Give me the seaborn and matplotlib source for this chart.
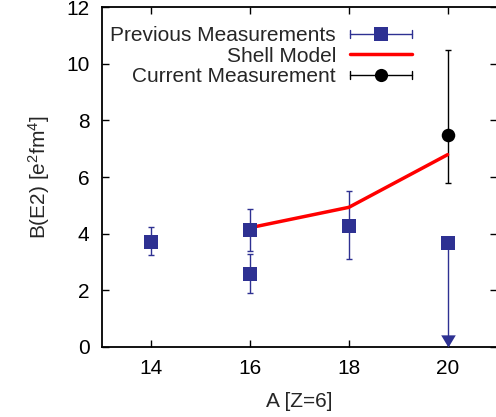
import numpy as np
import pandas as pd
import matplotlib
matplotlib.use("Agg")
import matplotlib.pyplot as plt
import seaborn as sns
from matplotlib.lines import Line2D
from matplotlib.legend_handler import HandlerBase

# ---- data ----
prev_A = [14, 16, 16, 18]
prev_B = [3.71, 4.13, 2.57, 4.28]
prev_lo = [3.25, 3.40, 1.90, 3.10]
prev_hi = [4.22, 4.87, 3.27, 5.50]

lim_A = [20]
lim_B = [3.67]
lim_floor = [0.0]

shell_A = [16, 18, 20]
shell_B = [4.21, 4.93, 6.79]

cur_A = [20]
cur_B = [7.49]
cur_lo = [5.80]
cur_hi = [10.48]

xticks = [14, 16, 18, 20]
yticks = [0, 2, 4, 6, 8, 10, 12]

BLUE = "#2e3192"
RED = "#ff0000"
BLACK = "#000000"
FS = 15

sns.set_theme(style="ticks")
plt.rcParams["font.family"] = ["Liberation Sans", "DejaVu Sans"]
plt.rcParams["mathtext.fontset"] = "custom"
plt.rcParams["mathtext.rm"] = "Liberation Sans"
plt.rcParams["mathtext.it"] = "Liberation Sans"

fig = plt.figure(figsize=(4.96, 4.17), dpi=100)
ax = fig.add_axes([0.2056, 0.168, 0.7964, 0.815])

df_prev = pd.DataFrame({"A": prev_A, "B": prev_B})
df_shell = pd.DataFrame({"A": shell_A, "B": shell_B})
df_cur = pd.DataFrame({"A": cur_A, "B": cur_B})
df_lim = pd.DataFrame({"A": lim_A, "B": lim_B})

# error bars
ax.errorbar(prev_A, prev_B,
            yerr=[np.array(prev_B) - np.array(prev_lo), np.array(prev_hi) - np.array(prev_B)],
            fmt="none", ecolor=BLUE, elinewidth=1.0, capsize=2.5, capthick=1.0, zorder=2)
ax.errorbar(lim_A, lim_B, yerr=[np.array(lim_B) - np.array(lim_floor), np.zeros(len(lim_B))],
            fmt="none", ecolor=BLUE, elinewidth=1.0, capsize=0, zorder=2)
ax.errorbar(cur_A, cur_B,
            yerr=[np.array(cur_B) - np.array(cur_lo), np.array(cur_hi) - np.array(cur_B)],
            fmt="none", ecolor=BLACK, elinewidth=1.0, capsize=2.5, capthick=1.0, zorder=2)

# shell model line
sns.lineplot(data=df_shell, x="A", y="B", color=RED, linewidth=2.5, ax=ax, zorder=3, legend=False)

# markers
sns.scatterplot(data=df_prev, x="A", y="B", marker="s", s=110, color=BLUE, edgecolor=BLUE,
                linewidth=0, ax=ax, zorder=4, legend=False)
sns.scatterplot(data=df_lim, x="A", y="B", marker="s", s=110, color=BLUE, edgecolor=BLUE,
                linewidth=0, ax=ax, zorder=4, legend=False)
sns.scatterplot(data=df_cur, x="A", y="B", marker="o", s=95, color=BLACK, edgecolor=BLACK,
                linewidth=0, ax=ax, zorder=5, legend=False)

# downward arrow head for upper limit (tip at floor)
tri = [(0, 0), (-0.6, 1), (0.6, 1), (0, 0)]
ax.plot(lim_A, lim_floor, linestyle="none", marker=tri, markersize=17.5, color=BLUE,
        markeredgewidth=0, clip_on=False, zorder=6)

ax.set_xlim(13, 21)
ax.set_ylim(0, 12)
ax.set_xticks(xticks)
ax.set_yticks(yticks)
ax.set_xlabel("A [Z=6]", fontsize=FS, labelpad=10)
ax.set_ylabel(r"B(E2) [e$^2$fm$^4$]", fontsize=FS, labelpad=10)
ax.tick_params(direction="in", length=5, width=1, top=True, right=True, labelsize=FS,
               colors="black", pad=9)
for s in ax.spines.values():
    s.set_linewidth(1.3)
    s.set_color("black")
    s.set_visible(True)


class HErr(HandlerBase):
    def __init__(self, color, marker, ms, cap=True, lw=1.0):
        super().__init__()
        self.c, self.m, self.ms, self.cap, self.lw = color, marker, ms, cap, lw

    def create_artists(self, legend, orig, xd, yd, w, h, fs, trans):
        y = h / 2 - yd
        x0, x1 = -xd, -xd + w
        arts = [Line2D([x0, x1], [y, y], color=self.c, lw=self.lw)]
        if self.cap:
            arts.append(Line2D([x0, x0], [y - 3, y + 3], color=self.c, lw=self.lw))
            arts.append(Line2D([x1, x1], [y - 3, y + 3], color=self.c, lw=self.lw))
        if self.m:
            arts.append(Line2D([(x0 + x1) / 2], [y], marker=self.m, ms=self.ms, color=self.c,
                               markeredgewidth=0, linestyle="none"))
        for a in arts:
            a.set_transform(trans)
        return arts


h1 = Line2D([], [], color=BLUE)
h2 = Line2D([], [], color=RED)
h3 = Line2D([], [], color=BLACK)
leg = ax.legend([h1, h2, h3], ["Previous Measurements", "Shell Model", "Current Measurement"],
                handler_map={h1: HErr(BLUE, "s", 10.5), h2: HErr(RED, None, 0, cap=False, lw=2.5),
                             h3: HErr(BLACK, "o", 9.5)},
                markerfirst=False, frameon=False, loc="upper right",
                bbox_to_anchor=(0.785, 0.943), borderpad=0, borderaxespad=0,
                handlelength=3.0, handletextpad=0.65, labelspacing=0.06, fontsize=FS)

fig.savefig("out.png", dpi=100)
